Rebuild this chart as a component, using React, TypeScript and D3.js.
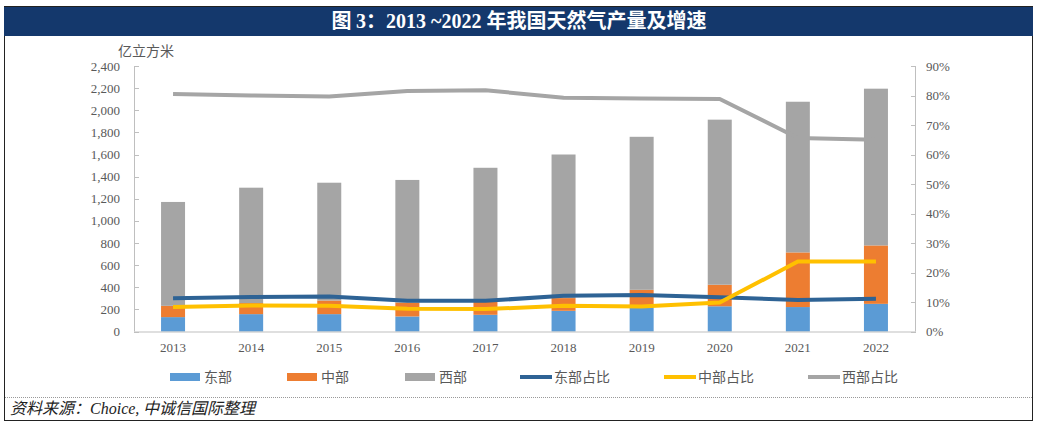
import React from 'react';
import * as d3 from 'd3';

const years = ['2013', '2014', '2015', '2016', '2017', '2018', '2019', '2020', '2021', '2022'];
// 亿立方米
const east = [130, 157, 157, 136, 151, 187, 221, 228, 221, 250];
const middle = [102, 100, 123, 126, 120, 115, 156, 195, 494, 528];
const totals = [1171, 1300, 1345, 1370, 1480, 1600, 1760, 1915, 2077, 2195];
const west = totals.map((t, i) => t - east[i] - middle[i]);
// 占比 (%)
const eastShare = [11.3, 11.7, 11.9, 10.4, 10.4, 12.1, 12.4, 11.6, 10.7, 11.1];
const middleShare = [8.3, 8.8, 8.7, 7.7, 7.6, 8.7, 8.5, 9.8, 23.7, 23.7];
const westShare = [80.5, 80.0, 79.7, 81.5, 81.8, 79.2, 79.0, 78.8, 65.6, 65.0];
const leftTicks = [0, 200, 400, 600, 800, 1000, 1200, 1400, 1600, 1800, 2000, 2200, 2400];
const rightTicks = [0, 10, 20, 30, 40, 50, 60, 70, 80, 90];

const W = 1039;
const H = 427;
const serif = '"Liberation Serif", "Times New Roman", serif';
const cjk = '"Noto Sans CJK SC", sans-serif';

const C = {
  east: '#5B9BD5',
  middle: '#ED7D31',
  west: '#A5A5A5',
  eastLine: '#2E6395',
  middleLine: '#FFC000',
  westLine: '#A5A5A5',
  axis: '#BFBFBF',
  text: '#595959',
  navy: '#14386C',
};

export default function App() {
  const left = 134;
  const right = 915;
  const top = 66;
  const bottom = 331.5;

  const x = d3.scaleBand<string>().domain(years).range([left, right]).paddingInner(0).paddingOuter(0);
  const yL = d3.scaleLinear().domain([0, 2400]).range([bottom, top]);
  const yR = d3.scaleLinear().domain([0, 90]).range([bottom, top]);
  const barW = 24;
  const cx = (y: string) => (x(y) as number) + x.bandwidth() / 2;

  const stackData = years.map((y, i) => ({ year: y, east: east[i], middle: middle[i], west: west[i] }));
  const stack = d3.stack<any>().keys(['east', 'middle', 'west'])(stackData);
  const fills: Record<string, string> = { east: C.east, middle: C.middle, west: C.west };

  const line = (vals: number[]) =>
    d3.line<number>().x((_, i) => cx(years[i])).y((d) => yR(d))(vals) as string;

  const legend = [
    { label: '东部', color: C.east, type: 'rect', x: 170 },
    { label: '中部', color: C.middle, type: 'rect', x: 287 },
    { label: '西部', color: C.west, type: 'rect', x: 405 },
    { label: '东部占比', color: C.eastLine, type: 'line', x: 520 },
    { label: '中部占比', color: C.middleLine, type: 'line', x: 664 },
    { label: '西部占比', color: C.westLine, type: 'line', x: 808 },
  ];
  const legendY = 377;

  return (
    <svg width={W} height={H} style={{ display: 'block', position: 'absolute', left: 0, top: 0 }}>
      <rect x={0} y={0} width={W} height={H} fill="#fff" />
      {/* frame */}
      <rect x={4.5} y={6.5} width={1028} height={414} fill="none" stroke="#222" strokeWidth={1} />
      <rect x={4} y={7} width={1029} height={29} fill={C.navy} />
      <text x={519} y={28} textAnchor="middle" fill="#fff" fontFamily={`${serif}, ${cjk}`}
        fontWeight="bold" fontSize={20}>
        <tspan fontFamily={cjk}>图 </tspan>3<tspan fontFamily={cjk}>：</tspan>2013 ~2022 <tspan fontFamily={cjk}>年我国天然气产量及增速</tspan>
      </text>

      {/* unit */}
      <text x={118} y={56} fontFamily={cjk} fontSize={14} fill={C.text}>亿立方米</text>

      {/* bars */}
      {stack.map((s) => (
        <g key={s.key} fill={fills[s.key]}>
          {s.map((d, i) => (
            <rect key={i} x={cx(years[i]) - barW / 2} y={yL(d[1])} width={barW} height={yL(d[0]) - yL(d[1])} />
          ))}
        </g>
      ))}

      {/* axes */}
      <g stroke={C.axis} strokeWidth={1} fill="none">
        <line x1={left + 0.5} x2={left + 0.5} y1={top} y2={bottom} />
        <line x1={right + 0.5} x2={right + 0.5} y1={top} y2={bottom} />
        <line x1={left} x2={right + 1} y1={bottom + 0.5} y2={bottom + 0.5} />
        {leftTicks.map((t) => (
          <line key={'l' + t} x1={left} x2={left + 5} y1={Math.round(yL(t)) + 0.5} y2={Math.round(yL(t)) + 0.5} />
        ))}
        {rightTicks.map((t) => (
          <line key={'r' + t} x1={right - 4} x2={right + 1} y1={Math.round(yR(t)) + 0.5} y2={Math.round(yR(t)) + 0.5} />
        ))}
      </g>
      <g fontFamily={serif} fontSize={13} fill={C.text}>
        {leftTicks.map((t) => (
          <text key={'lt' + t} x={120} y={yL(t) + 4.5} textAnchor="end">{d3.format(',')(t)}</text>
        ))}
        {rightTicks.map((t) => (
          <text key={'rt' + t} x={926} y={yR(t) + 4.5}>{t + '%'}</text>
        ))}
        {years.map((y) => (
          <text key={'x' + y} x={cx(y)} y={352} textAnchor="middle">{y}</text>
        ))}
      </g>

      {/* share lines */}
      <g fill="none" strokeWidth={4} strokeLinejoin="round">
        <path d={line(westShare)} stroke={C.westLine} />
        <path d={line(eastShare)} stroke={C.eastLine} />
        <path d={line(middleShare)} stroke={C.middleLine} />
      </g>

      {/* legend */}
      <g fontFamily={cjk} fontSize={14} fill={C.text}>
        {legend.map((l) => (
          <g key={l.label}>
            {l.type === 'rect' ? (
              <rect x={l.x} y={legendY - 4} width={30} height={8} fill={l.color} />
            ) : (
              <line x1={l.x} x2={l.x + 32} y1={legendY} y2={legendY} stroke={l.color} strokeWidth={4} />
            )}
            <text x={l.x + (l.type === 'rect' ? 34 : 34)} y={legendY + 5}>{l.label}</text>
          </g>
        ))}
      </g>

      {/* separator + source */}
      <line x1={5} x2={1032} y1={397.5} y2={397.5} stroke="#999" strokeWidth={1} strokeDasharray="1 1" />
      <text x={10} y={414} fontSize={16} fontStyle="italic" fill="#222" fontFamily={cjk}>
        资料来源：<tspan fontFamily={serif}>Choice,</tspan> 中诚信国际整理
      </text>
    </svg>
  );
}
